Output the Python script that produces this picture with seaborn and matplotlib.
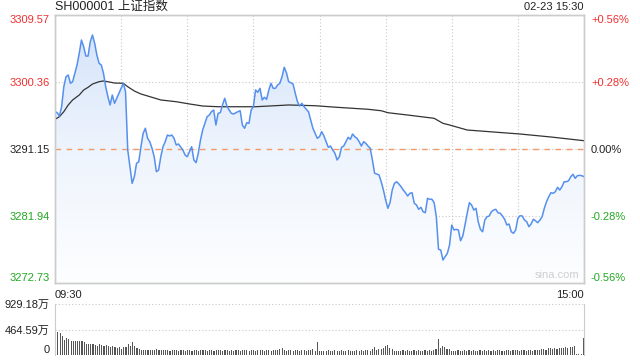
import numpy as np
import pandas as pd
import matplotlib
matplotlib.use("Agg")
import matplotlib.pyplot as plt
import seaborn as sns
from matplotlib.colors import LinearSegmentedColormap

# ---- data ----
title = "SH000001 上证指数"
stamp = "02-23 15:30"
prev_close = 3291.15
price_ticks = [3309.57, 3300.36, 3291.15, 3281.94, 3272.73]
pct_labels = ["+0.56%", "+0.28%", "0.00%", "-0.28%", "-0.56%"]
vol_ticks = [0, 464.59, 929.18]
vol_labels = ["0", "464.59万", "929.18万"]
time_labels = ["09:30", "15:00"]

price_min = [0, 1, 2, 3, 4, 5, 6, 7, 8, 9, 10, 11, 12, 13, 14, 15, 16, 17, 18, 19,
             20, 21, 22, 23, 24, 25, 26, 27, 28, 29, 30, 31, 32, 33, 34, 35, 36, 37, 38, 39,
             40, 41, 42, 43, 44, 45, 46, 47, 48, 49, 50, 51, 52, 53, 54, 55, 56, 58, 59, 60,
             61, 62, 63, 64, 65, 66, 67, 68, 69, 70, 71, 72, 73, 74, 75, 76, 77, 78, 79, 80,
             81, 83, 84, 85, 86, 87, 88, 89, 90, 91, 92, 93, 94, 95, 96, 97, 98, 99, 100, 101,
             102, 103, 104, 105, 106, 107, 108, 109, 110, 111, 112, 113, 115, 116, 117, 119, 120, 121, 122, 123,
             124, 125, 126, 127, 128, 129, 130, 131, 132, 133, 134, 135, 136, 137, 138, 139, 140, 141, 142, 143,
             144, 145, 146, 147, 148, 149, 150, 151, 152, 153, 154, 155, 156, 157, 158, 159, 160, 161, 162, 163,
             164, 165, 166, 167, 168, 169, 170, 171, 172, 173, 174, 175, 176, 177, 178, 179, 180, 181, 182, 183,
             184, 185, 186, 187, 188, 189, 190, 191, 192, 193, 194, 195, 196, 197, 198, 199, 200, 201, 202, 203,
             204, 205, 206, 207, 208, 209, 210, 211, 212, 213, 214, 215, 216, 217, 218, 219, 220, 221, 222, 223,
             224, 225, 226, 227, 228, 229, 230, 231, 232, 233, 234, 235, 236, 237, 238, 239, 240]
price = [3296.28, 3296.14, 3295.69, 3296.96, 3299.71, 3301.09, 3301.32, 3300.18, 3300.40, 3301.56,
         3302.70, 3304.31, 3306.13, 3305.21, 3303.93, 3303.93, 3305.90, 3306.82, 3305.68, 3304.07,
         3302.93, 3302.70, 3301.56, 3299.71, 3298.34, 3297.20, 3298.57, 3297.43, 3298.12, 3298.81,
         3299.49, 3300.18, 3299.03, 3291.01, 3288.72, 3286.43, 3287.34, 3289.18, 3289.40, 3291.47,
         3293.31, 3294.00, 3292.62, 3292.15, 3291.25, 3290.09, 3288.03, 3288.26, 3290.09, 3291.47,
         3292.15, 3293.07, 3292.94, 3293.07, 3292.62, 3291.70, 3291.84, 3291.01, 3290.33, 3290.09,
         3290.78, 3291.47, 3289.64, 3289.27, 3290.56, 3292.39, 3293.76, 3294.68, 3295.59, 3295.82,
         3296.28, 3296.51, 3294.45, 3296.06, 3296.14, 3297.20, 3298.12, 3297.06, 3296.51, 3296.06,
         3295.96, 3296.28, 3296.41, 3294.45, 3294.00, 3294.77, 3294.68, 3296.51, 3296.96, 3299.26,
         3298.94, 3299.49, 3297.89, 3298.26, 3297.98, 3299.26, 3300.18, 3299.49, 3299.49, 3299.95,
         3300.18, 3301.09, 3302.38, 3301.64, 3300.40, 3300.26, 3300.08, 3298.81, 3297.65, 3297.06,
         3297.43, 3296.96, 3296.28, 3295.14, 3294.00, 3292.62, 3292.84, 3293.53, 3292.94, 3292.15,
         3291.38, 3291.56, 3291.01, 3290.56, 3289.64, 3290.09, 3291.38, 3291.56, 3292.15, 3292.76,
         3292.48, 3293.21, 3292.84, 3292.62, 3292.15, 3291.56, 3292.15, 3291.93, 3291.56, 3291.25,
         3289.64, 3287.81, 3287.71, 3287.58, 3286.65, 3285.51, 3284.14, 3283.00, 3283.77, 3285.51,
         3286.43, 3286.65, 3286.34, 3285.97, 3285.51, 3285.14, 3284.69, 3285.06, 3285.14, 3283.69,
         3283.45, 3282.86, 3283.14, 3282.53, 3282.39, 3284.37, 3284.24, 3284.24, 3283.77, 3281.84,
         3277.36, 3277.27, 3275.89, 3276.35, 3276.81, 3277.95, 3280.70, 3280.02, 3280.11, 3280.02,
         3278.54, 3279.19, 3280.70, 3282.31, 3283.77, 3283.45, 3282.76, 3283.00, 3281.16, 3280.11,
         3279.78, 3281.39, 3281.84, 3281.94, 3282.53, 3282.76, 3282.86, 3282.39, 3282.31, 3281.94,
         3281.49, 3280.70, 3280.84, 3279.78, 3279.56, 3280.02, 3281.62, 3281.98, 3281.94, 3281.39,
         3281.16, 3280.47, 3280.84, 3281.49, 3281.29, 3281.02, 3281.39, 3281.84, 3283.00, 3283.91,
         3284.59, 3285.14, 3285.06, 3285.28, 3285.89, 3285.51, 3285.97, 3286.65, 3286.65, 3286.79,
         3287.34, 3287.67, 3287.12, 3287.48, 3287.53, 3287.48, 3287.34]

avg_min = [0, 2, 4, 6, 8, 11, 13, 15, 17, 20, 22, 24, 27, 31, 33, 36, 39, 42, 48, 55,
           61, 67, 74, 80, 91, 106, 118, 128, 142, 148, 151, 160, 172, 176, 179, 187, 211, 225, 240]
avg_price = [3295.23, 3295.59, 3296.28, 3297.20, 3297.89, 3298.57, 3299.26, 3299.63, 3300.08, 3300.40,
             3300.50, 3300.40, 3300.22, 3300.18, 3299.71, 3299.12, 3298.71, 3298.44, 3297.89, 3297.65,
             3297.34, 3297.06, 3296.96, 3296.96, 3296.96, 3297.20, 3297.10, 3296.88, 3296.61, 3296.41,
             3296.14, 3295.82, 3295.37, 3294.68, 3294.45, 3293.76, 3293.21, 3292.80, 3292.29]

# volume per minute, in 万
vol = [929, 428, 397, 348, 275, 306, 299, 263, 263, 263,
       263, 263, 257, 244, 202, 202, 195, 202, 183, 165,
       195, 183, 165, 175, 165, 141, 160, 141, 122, 150,
       110, 150, 150, 195, 170, 230, 160, 122, 104, 98,
       92, 98, 92, 92, 86, 98, 104, 92, 86, 98,
       86, 92, 80, 98, 92, 86, 80, 92, 86, 80,
       92, 86, 80, 98, 86, 80, 92, 86, 98, 80,
       86, 92, 80, 86, 98, 86, 80, 92, 86, 80,
       86, 80, 92, 86, 80, 98, 86, 92, 80, 86,
       92, 80, 86, 98, 86, 80, 92, 86, 80, 98,
       86, 92, 110, 122, 86, 80, 92, 86, 80, 86,
       92, 80, 86, 98, 80, 86, 92, 104, 80, 244,
       68, 74, 80, 74, 86, 74, 80, 86, 74, 80,
       86, 74, 80, 86, 80, 74, 80, 86, 74, 92,
       80, 86, 92, 80, 110, 141, 98, 110, 104, 122,
       165, 183, 122, 104, 80, 74, 80, 74, 86, 80,
       86, 80, 74, 86, 80, 92, 80, 74, 86, 80,
       86, 80, 92, 110, 293, 122, 165, 141, 110, 110,
       80, 74, 80, 86, 74, 80, 86, 74, 92, 80,
       86, 80, 74, 86, 80, 92, 80, 86, 74, 86,
       80, 92, 86, 80, 74, 86, 92, 80, 86, 98,
       86, 80, 92, 86, 80, 98, 86, 80, 92, 98,
       86, 104, 110, 98, 122, 134, 110, 122, 116, 134,
       122, 134, 141, 134, 141, 153, 165, 25, 18, 25,
       318]

# ---- style ----
sns.set_style("white")
plt.rcParams['font.family'] = ['Liberation Sans', 'Noto Sans CJK SC', 'DejaVu Sans']
RED = "#f03030"
GREEN = "#22a822"
BLUE = "#5590ee"
GRID = "#c8c8c8"
BORDER = "#cccccc"
dotted = (0, (1, 2))

price_df = pd.DataFrame({"minute": price_min, "price": price})
avg_df = pd.DataFrame({"minute": avg_min, "avg": avg_price})
vol_df = pd.DataFrame({"minute": np.arange(len(vol)), "vol": vol})

fig = plt.figure(figsize=(6.4, 3.6), dpi=100)
ax = fig.add_axes([55 / 640, 1 - 283 / 360, 529 / 640, 268 / 360])
axv = fig.add_axes([55 / 640, 1 - 355 / 360, 529 / 640, 51 / 360])

ymin, ymax = price_ticks[-1], price_ticks[0]
ax.set_xlim(0, 240)
ax.set_ylim(ymin, ymax)

# gridlines
for t in price_ticks[1:-1]:
    ax.axhline(t, color=GRID, lw=0.8, ls=dotted, zorder=1)
for m in range(30, 240, 30):
    ax.axvline(m, color=GRID, lw=0.8, ls=dotted, zorder=1)
ax.axhline(prev_close, color="#f29a68", lw=1.0, ls=(0, (4, 4)), zorder=2)

# gradient fill under the price line
poly = ax.fill_between(price_df["minute"], price_df["price"], ymin,
                       facecolor="none", edgecolor="none")
cmap = LinearSegmentedColormap.from_list("fill", ["#fdfeff", "#eef4fd", "#d2e2f9"])
grad = np.linspace(0, 1, 256).reshape(-1, 1)
im = ax.imshow(grad, cmap=cmap, origin="lower", aspect="auto",
               extent=[0, 240, ymin, ymax], zorder=1.5)
im.set_clip_path(poly.get_paths()[0], transform=ax.transData)

sns.lineplot(data=price_df, x="minute", y="price", ax=ax, color=BLUE, lw=1.1, zorder=4)
sns.lineplot(data=avg_df, x="minute", y="avg", ax=ax, color="#333333", lw=0.9, zorder=3)

# left / right axes labels
ax.set_yticks(price_ticks)
ax.set_yticklabels([f"{t:.2f}" for t in price_ticks])
left_colors = [RED, RED, "#222222", GREEN, GREEN]
for lab, c in zip(ax.get_yticklabels(), left_colors):
    lab.set_color(c)
ax.get_yticklabels()[0].set_va("top")
ax.get_yticklabels()[-1].set_va("bottom")
ax.tick_params(axis="y", length=0, pad=4, labelsize=8)

axr = ax.twinx()
axr.set_ylim(ymin, ymax)
axr.set_yticks(price_ticks)
axr.set_yticklabels(pct_labels)
for lab, c in zip(axr.get_yticklabels(), left_colors):
    lab.set_color(c)
axr.get_yticklabels()[0].set_va("top")
axr.get_yticklabels()[-1].set_va("bottom")
axr.tick_params(axis="y", length=0, pad=5, labelsize=8)

ax.set_xticks([0, 240])
ax.set_xticklabels(time_labels)
ax.get_xticklabels()[0].set_ha("left")
ax.get_xticklabels()[1].set_ha("right")
ax.tick_params(axis="x", length=0, pad=5, labelsize=8, colors="#222222")
ax.set_xlabel("")
ax.set_ylabel("")
axr.set_ylabel("")

for a in (ax, axr):
    for s in a.spines.values():
        s.set_color(BORDER)
        s.set_linewidth(1)

ax.text(0.992, 0.012, "sina.com", transform=ax.transAxes, ha="right", va="bottom",
        fontsize=8, color="#cfcfcf")

# title row
fig.text(55 / 640, 1 - 7 / 360, title, ha="left", va="center", fontsize=9, color="#222222")
fig.text(584 / 640, 1 - 7 / 360, stamp, ha="right", va="center", fontsize=8, color="#222222")

# volume panel
sns.barplot(data=vol_df, x="minute", y="vol", ax=axv, native_scale=True,
            color="#555555", width=0.5, saturation=1, edgecolor="none")
axv.set_xlim(-0.3, 240.3)
axv.set_ylim(0, 929.18)
for t in vol_ticks[1:]:
    axv.axhline(t, color=GRID, lw=0.8, ls=dotted, clip_on=False, zorder=0)
axv.set_yticks(vol_ticks)
axv.set_yticklabels(vol_labels)
axv.get_yticklabels()[0].set_va("bottom")
axv.tick_params(axis="y", length=0, pad=4, labelsize=8, colors="#222222")
axv.set_xticks([])
axv.set_xlabel("")
axv.set_ylabel("")
axv.spines["top"].set_visible(False)
axv.spines["bottom"].set_visible(False)
axv.spines["left"].set_color(BORDER)
axv.spines["right"].set_color(BORDER)

fig.savefig("out.png", dpi=100)
